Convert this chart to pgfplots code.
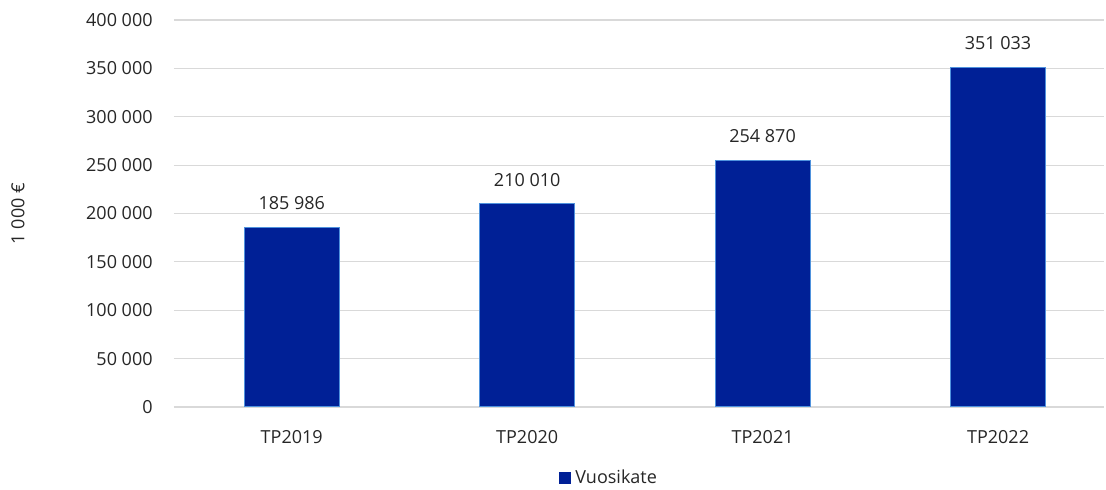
\documentclass[border=0pt]{standalone}
\usepackage{fontspec}
\setmainfont{Open Sans}
\usepackage{pgfplots}
\pgfplotsset{compat=1.18}
\definecolor{barblue}{RGB}{0,32,150}
\definecolor{baredge}{RGB}{79,146,221}
\definecolor{gridgray}{RGB}{217,217,217}
\definecolor{txt}{RGB}{38,38,38}

\begin{document}
\fontsize{9pt}{11pt}\selectfont
\begin{tikzpicture}
\path[use as bounding box] (-87pt,-41.5pt) rectangle (466pt,203.5pt);
\begin{axis}[
    at={(0,0)}, anchor=south west,
    scale only axis,
    width=465pt, height=193.5pt,
    ybar, bar width=0.404,
    xmin=-0.5, xmax=3.45,
    ymin=0, ymax=400000,
    ytick={0,50000,...,400000},
    xtick=data,
    xticklabels={TP2019,TP2020,TP2021,TP2022},
    scaled y ticks=false,
    yticklabel={\pgfmathprintnumber[fixed,precision=0,1000 sep={\ },assume math mode=true]{\tick}},
    ymajorgrids, grid style={gridgray, line width=0.6pt},
    axis y line*=left,
    axis x line*=bottom,
    y axis line style={draw=none},
    x axis line style={gridgray, line width=0.6pt, -},
    major tick length=0pt,
    tick style={draw=none},
    every tick label/.append style={font=\fontsize{9pt}{11pt}\selectfont, text=txt},
    yticklabel style={anchor=east, inner sep=0pt, xshift=-10.5pt},
    xticklabel style={anchor=north, inner sep=0pt, yshift=-11.5pt},
    ylabel={1 000 €},
    ylabel style={at={(axis description cs:-0.1677,0.5)}, anchor=center, text=txt, font=\fontsize{9pt}{11pt}\selectfont},
    nodes near coords={\pgfmathprintnumber[fixed,precision=0,1000 sep={\ },assume math mode=true]{\pgfplotspointmeta}},
    every node near coord/.append style={anchor=south, inner sep=0pt, yshift=8.5pt, text=txt, font=\fontsize{9pt}{11pt}\selectfont},
    legend style={at={(rel axis cs:0.469,-0.183)}, anchor=center, draw=none, fill=none,
        font=\fontsize{9pt}{11pt}\selectfont, text=txt, inner sep=0pt,
        /tikz/every even column/.append style={column sep=2pt}},
    legend image code/.code={\fill[barblue] (0pt,-2.75pt) rectangle (5.5pt,2.75pt);},
    clip=false,
]
\addplot[fill=barblue, draw=baredge, line width=0.5pt] coordinates {
    (0,185986) (1,210010) (2,254870) (3,351033)
};
\addlegendentry{Vuosikate}
\end{axis}
\end{tikzpicture}
\end{document}
